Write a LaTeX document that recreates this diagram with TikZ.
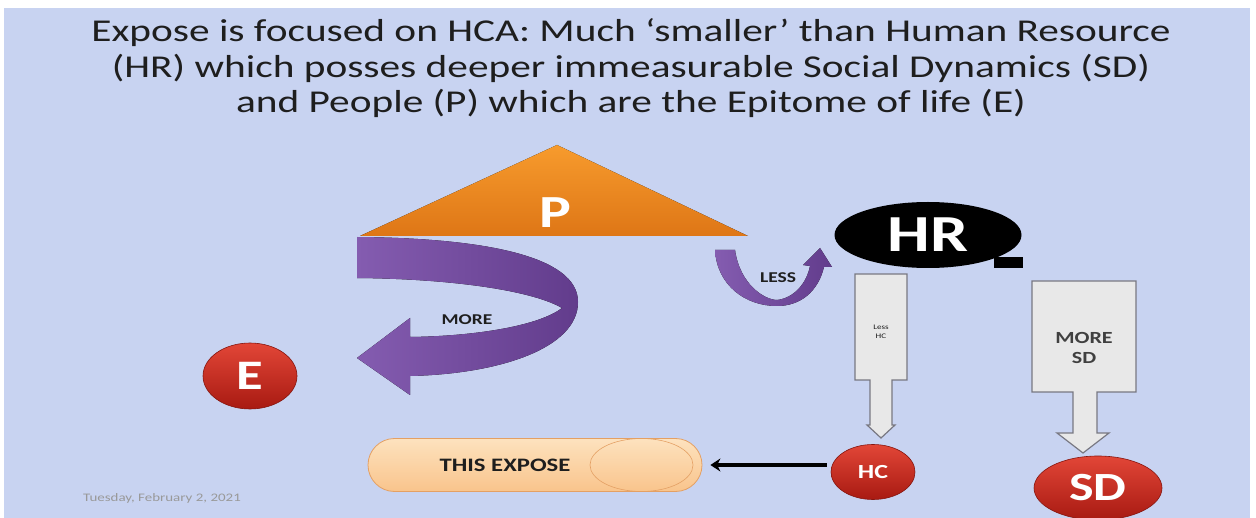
\documentclass[tikz,border=0pt]{standalone}
\usepackage{fontspec}
\setmainfont{Carlito}[FakeStretch=1.3]
\usetikzlibrary{shapes.geometric,arrows.meta}
\definecolor{bg}{RGB}{200,211,241}
\definecolor{purpL}{RGB}{132,92,176}
\definecolor{purpD}{RGB}{98,60,140}
\definecolor{orT}{RGB}{247,155,45}
\definecolor{orB}{RGB}{222,118,22}
\definecolor{redT}{RGB}{226,70,55}
\definecolor{redB}{RGB}{168,26,18}
\definecolor{grayF}{RGB}{232,232,232}
\definecolor{grayL}{RGB}{120,120,130}
\definecolor{peachT}{RGB}{253,226,190}
\definecolor{peachB}{RGB}{249,196,140}
\definecolor{peachL}{RGB}{228,160,100}
\definecolor{txtD}{RGB}{30,30,30}
\tikzset{
  redball/.style={ellipse, inner sep=0pt, top color=redT, bottom color=redB, draw=redB!80!black, line width=0.6pt, text=white, font=\bfseries},
  callout/.style={fill=grayF, draw=grayL, line width=1.2pt, line join=miter},
  purp/.style={left color=purpL, right color=purpD},
  lbl/.style={inner sep=0pt, font=\bfseries, text=txtD},
}
\begin{document}
\begin{tikzpicture}[x=1pt,y=-1pt]
\useasboundingbox (0,0) rectangle (1256,518);
\fill[white] (0,0) rectangle (1256,518);
\fill[bg] (4,8) rectangle (1250,518);

% title
\node[align=center, inner sep=0pt, anchor=base, text=txtD, font=\fontsize{31.8}{35.3}\selectfont] (title) at (631,112.5)
  {Expose is focused on HCA: Much ‘smaller’ than Human Resource\\
   (HR) which posses deeper immeasurable Social Dynamics (SD)\\
   and People (P) which are the Epitome of life (E)};

% P triangle
\fill[top color=orT, bottom color=orB] (557,145) -- (748,236) -- (360,236) -- cycle;
\node[inner sep=0pt, text=white, font=\fontsize{46}{46}\bfseries\selectfont] (P) at (555,213) {P};

% MORE ribbon arrow
\fill[purp] (357,237) .. controls (480,238) and (578,255) .. (578,302)
  .. controls (578,348) and (500,374) .. (410,376) -- (410,395) -- (357,358) -- (410,318) -- (410,337)
  .. controls (480,336) and (540,325) .. (562,308)
  .. controls (535,292) and (460,279) .. (357,278) -- cycle;
\node[lbl, font=\fontsize{15}{15}\bfseries\selectfont] (more) at (467,320) {MORE};

% LESS arrow
\fill[purp] (715,250) -- (735,250) .. controls (740,285) and (765,300) .. (777,300)
  .. controls (795,298) and (807,282) .. (810,266) -- (803,265) -- (820,248) -- (832,267) -- (824,267)
  .. controls (818,292) and (800,306) .. (777,306)
  .. controls (745,306) and (717,285) .. (715,250) -- cycle;
\node[lbl, font=\fontsize{15}{15}\bfseries\selectfont] (less) at (778,278) {LESS};

% HR
\node[ellipse, fill=black, inner sep=0pt, minimum width=187, minimum height=66, text=white,
      font=\fontsize{52}{52}\bfseries\selectfont] (HR) at (928,235) {HR};
\fill[black] (994,257) rectangle (1023,268);

% Less HC callout
\draw[callout] (855,274) -- (907,274) -- (907,380) -- (892,380) -- (892,425) -- (895,425)
  -- (881,438) -- (867,425) -- (870,425) -- (870,380) -- (855,380) -- cycle;
\node[align=center, inner sep=0pt, text=txtD, font=\fontsize{7}{9}\selectfont] (lesshc) at (881,332) {Less\\HC};

% MORE SD callout
\draw[callout] (1032,281) -- (1136,281) -- (1136,392) -- (1097,392) -- (1097,433) -- (1109,433)
  -- (1083,453) -- (1057,433) -- (1073,433) -- (1073,392) -- (1032,392) -- cycle;
\node[align=center, inner sep=0pt, text=txtD!85!white, font=\fontsize{17}{20}\bfseries\selectfont] (moresd) at (1084,348) {MORE\\SD};

% red ellipses
\node[redball, minimum width=94, minimum height=66, font=\fontsize{42}{42}\bfseries\selectfont] (E) at (250,376) {E};
\node[redball, minimum width=84, minimum height=55, font=\fontsize{20}{20}\bfseries\selectfont] (HC) at (873,472) {HC};
\node[redball, minimum width=128, minimum height=64, font=\fontsize{40}{40}\bfseries\selectfont] (SD) at (1098,488) {SD};

% THIS EXPOSE capsule
\node[rectangle, rounded corners=26.5pt, minimum width=334, minimum height=53, inner sep=0pt,
      top color=peachT, bottom color=peachB, draw=peachL, line width=0.8pt] (expose) at (535,465) {};
\draw[peachL, line width=0.6pt] (641.5,465) ellipse [x radius=51.5, y radius=26.5];
\node[lbl, font=\fontsize{19}{19}\bfseries\selectfont] (exposetxt) at (505,465) {THIS EXPOSE};

% arrow HC -> expose
\draw[line width=3.5pt, black, -{Stealth[length=10pt,width=13pt]}, shorten >=8pt, shorten <=4pt]
  (expose.east -| HC.west) -- (expose.east);

% date
\node[inner sep=0pt, text=gray!80!white, font=\fontsize{11.5}{11.5}\selectfont] (date) at (162,498) {Tuesday, February 2, 2021};
\end{tikzpicture}
\end{document}
